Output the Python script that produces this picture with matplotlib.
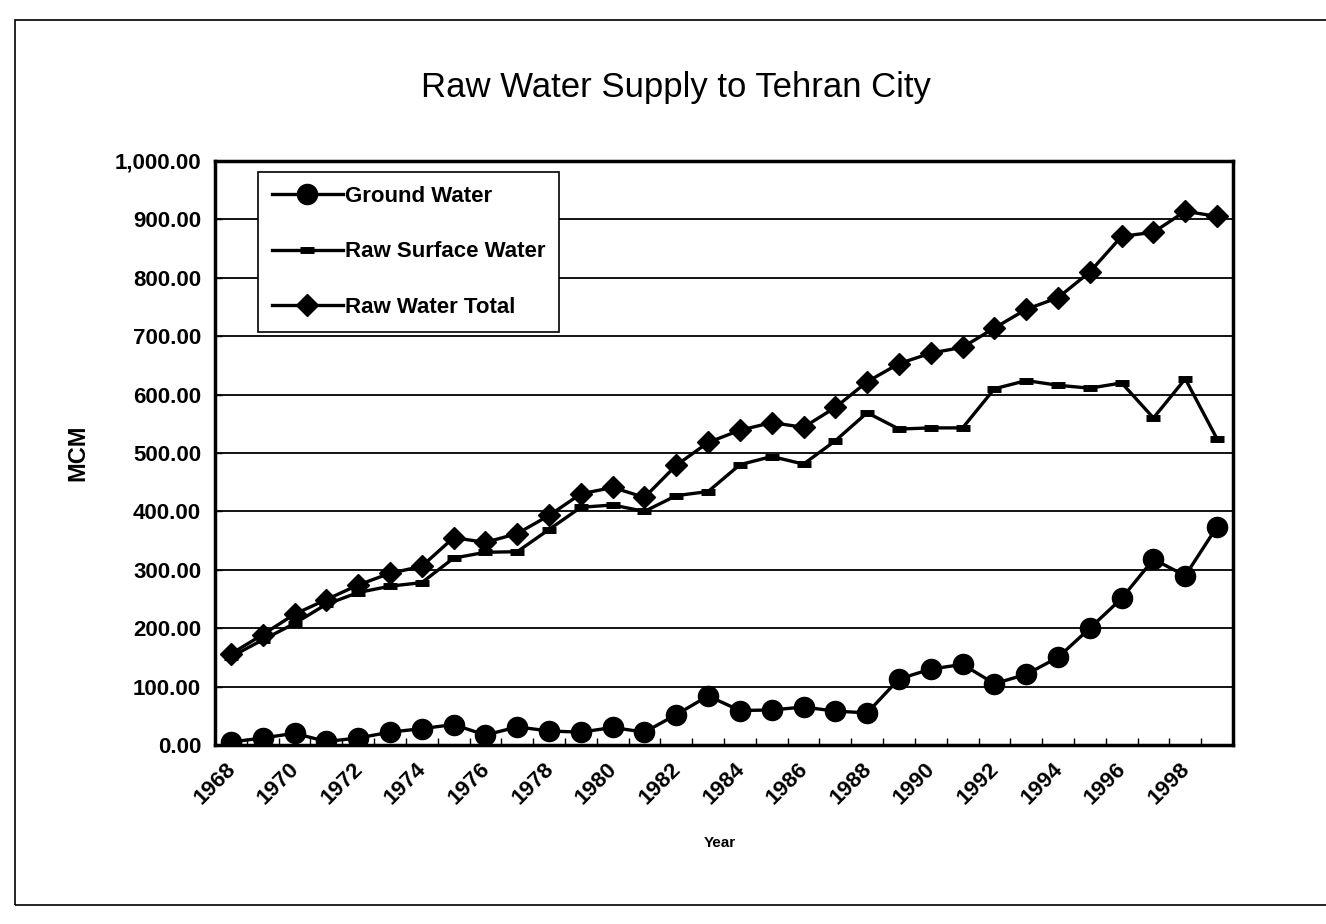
import matplotlib
matplotlib.use("Agg")
import matplotlib.pyplot as plt
from matplotlib.patches import Rectangle
from matplotlib.ticker import FuncFormatter, FixedLocator
import matplotlib.transforms as mtransforms

plt.rcParams['font.family'] = ['Liberation Sans', 'DejaVu Sans']

years = [1968, 1969, 1970, 1971, 1972, 1973, 1974, 1975, 1976, 1977, 1978,
         1979, 1980, 1981, 1982, 1983, 1984, 1985, 1986, 1987, 1988, 1989,
         1990, 1991, 1992, 1993, 1994, 1995, 1996, 1997, 1998, 1999]

ground = [5, 12, 20, 6, 12, 22, 28, 35, 17, 31, 24, 22, 30, 22, 52, 84,
          59, 60, 65, 58, 55, 113, 130, 138, 105, 121, 150, 200, 251, 318, 290, 374]
surface = [151, 180, 208, 241, 261, 272, 278, 320, 330, 331, 369, 407, 411, 400, 427, 434,
           480, 494, 481, 521, 569, 541, 543, 543, 610, 624, 616, 611, 620, 560, 627, 524]
total = [156, 189, 224, 249, 274, 294, 306, 355, 347, 362, 393, 430, 441, 424, 479, 518,
         539, 552, 544, 578, 622, 653, 671, 681, 714, 746, 766, 810, 871, 878, 914, 905]

W, H = 1326, 924
fig = plt.figure(figsize=(W / 100, H / 100), dpi=100)
ax = fig.add_axes([215 / W, 1 - 745 / H, (1233 - 215) / W, (745 - 161) / H])

x = list(range(len(years)))

ax.plot(x, ground, color='black', lw=2.4, marker='o', ms=14.5, label='Ground Water', zorder=3)
ax.plot(x, surface, color='black', lw=2.4, marker='_', ms=10, mew=5, label='Raw Surface Water', zorder=3)
ax.plot(x, total, color='black', lw=2.4, marker='D', ms=11, label='Raw Water Total', zorder=3)

ax.set_ylim(0, 1000)
ax.set_xlim(-0.5, len(years) - 0.5)
ax.set_yticks(range(0, 1001, 100))
ax.yaxis.set_major_formatter(FuncFormatter(lambda v, p: '{:,.2f}'.format(v)))
ax.grid(axis='y', color='black', lw=1.3)
ax.set_axisbelow(True)

# labels every other year, tick marks between categories
ax.set_xticks(x[::2])
ax.set_xticklabels([str(y) for y in years[::2]], rotation=45, ha='right', va='top',
                   rotation_mode='anchor')
ax.xaxis.set_minor_locator(FixedLocator([i - 0.5 for i in range(len(years) + 1)]))
ax.tick_params(axis='x', which='major', length=0, pad=10, labelsize=16)
ax.tick_params(axis='x', which='minor', direction='in', length=5, width=1)
ax.tick_params(axis='y', direction='in', length=5, width=1, pad=10, labelsize=16)
offset = mtransforms.ScaledTranslation(-0.06, 0, fig.dpi_scale_trans)
for lab in ax.get_xticklabels():
    lab.set_transform(lab.get_transform() + offset)
for lab in ax.get_xticklabels() + ax.get_yticklabels():
    lab.set_fontweight('bold')

for s in ax.spines.values():
    s.set_linewidth(2.5)
    s.set_color('black')

ax.set_ylabel('MCM', fontsize=17, fontweight='bold', labelpad=18)
fig.text(720 / W, 1 - 843 / H, 'Year', fontsize=11, fontweight='bold', ha='center', va='center')
fig.text(676 / W, 1 - 88 / H, 'Raw Water Supply to Tehran City', fontsize=25,
         ha='center', va='center')

leg = ax.legend(loc='upper left', bbox_to_anchor=(0.042, 0.981), borderaxespad=0,
                frameon=True, fancybox=False, edgecolor='black', framealpha=1,
                prop={'size': 16, 'weight': 'bold'}, handlelength=3.2,
                handletextpad=0.1, labelspacing=1.55, borderpad=0.62, numpoints=1)
leg.get_frame().set_linewidth(1.2)

# outer chart border (right edge runs off the page)
fig.add_artist(Rectangle((15 / W, 1 - 905 / H), 1.2, (905 - 20) / H, transform=fig.transFigure,
                         fill=False, edgecolor='black', lw=1.2, clip_on=False))

fig.savefig('out.png', dpi=100)
